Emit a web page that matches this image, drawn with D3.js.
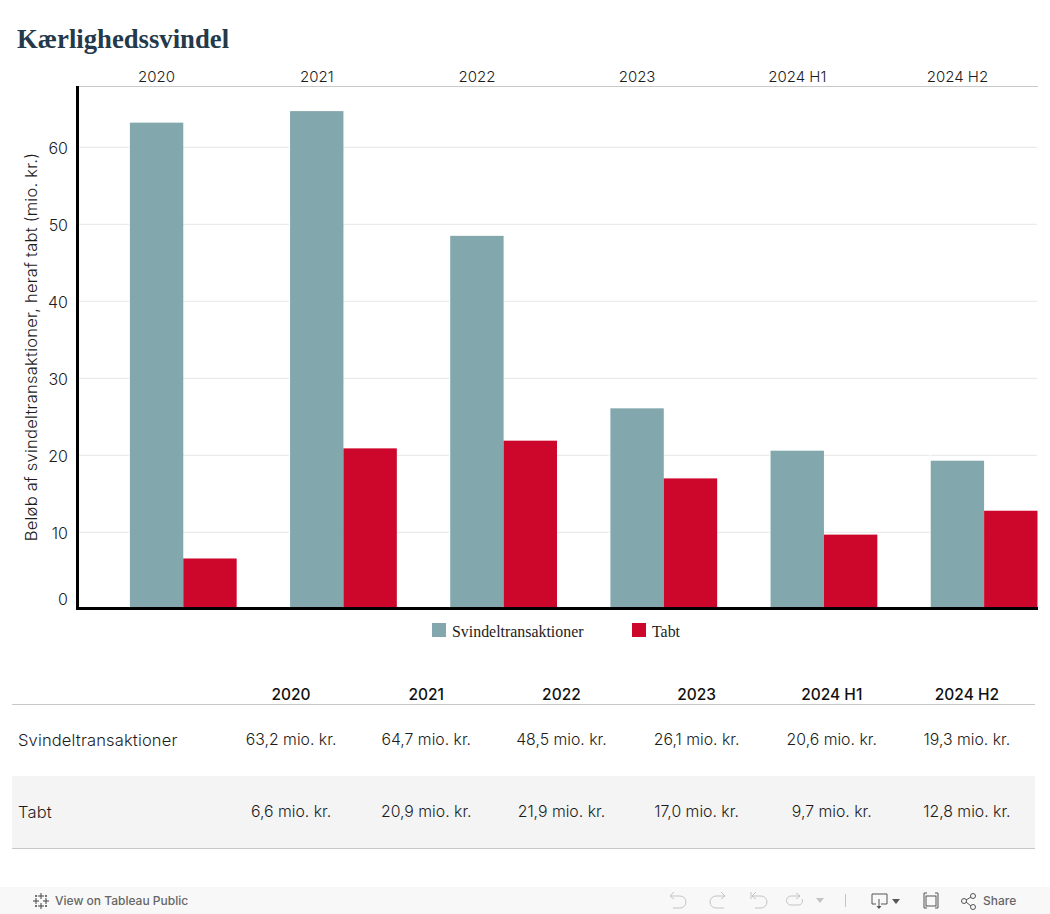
<!DOCTYPE html>
<html>
<head>
<meta charset="utf-8">
<script src="https://cdn.jsdelivr.net/npm/d3@7"></script>
<style>
	html, body { margin: 0; padding: 0; background: #fff; overflow: hidden; }
	svg { display: block; }
	text { font-family: Inter, sans-serif; font-weight: 300; fill: #1c1c1c; }
</style>
</head>
<body>
<svg id="chart" width="1050" height="914"></svg>
<script>
var periods = ["2020", "2021", "2022", "2023", "2024 H1", "2024 H2"]
var seriesNames = ["Svindeltransaktioner", "Tabt"]
var svindel = [63.2, 64.7, 48.5, 26.1, 20.6, 19.3]
var tabt = [6.6, 20.9, 21.9, 17.0, 9.7, 12.8]
var yTicks = [0, 10, 20, 30, 40, 50, 60]
var colors = ["#82a8ae", "#cd072b"]

var svg = d3.select("#chart")
var serif = "'Liberation Serif', serif"
var fmt = (v) => d3.format(".1f")(v).replace(".", ",") + " mio. kr."

// title
svg.append("text")
	.attr("x", 17).attr("y", 48)
	.style("font-family", serif).style("font-weight", 700).style("font-size", "26.7px")
	.style("fill", "#24394a")
	.text("Kærlighedssvindel")

// scales
var x = d3.scaleBand().domain(periods).range([76.5, 1037.5])
var y = d3.scaleLinear().domain([0, 60]).range([609.3, 147.3])
// each panel leaves its first third empty, the two bars sit in the rest
var x1 = d3.scaleBand().domain(seriesNames).range([x.bandwidth() / 3, x.bandwidth()])

// gridlines
svg.append("g").selectAll("line")
	.data(yTicks.filter((d) => d > 0))
	.join("line")
	.attr("x1", 79).attr("x2", 1037)
	.attr("y1", (d) => y(d)).attr("y2", (d) => y(d))
	.attr("stroke", "#e6e6e6").attr("stroke-width", 1)

// y axis labels
var yAxis = svg.append("g")
	.attr("transform", "translate(72,0)")
	.call(d3.axisLeft(y).tickValues(yTicks).tickSize(0).tickPadding(4))
yAxis.select(".domain").remove()
yAxis.selectAll("text")
	.style("font-family", "Inter, sans-serif").style("font-size", "16px")
	.attr("dy", "0.36em")
	.attr("y", (d) => d === 0 ? -11 : 0)

svg.append("text")
	.attr("transform", "translate(37,347) rotate(-90)")
	.attr("text-anchor", "middle")
	.style("font-size", "16.5px").style("letter-spacing", "0.24px")
	.text("Beløb af svindeltransaktioner, heraf tabt (mio. kr.)")

// top header
svg.append("g").selectAll("text")
	.data(periods)
	.join("text")
	.attr("x", (d) => x(d) + x.bandwidth() / 2)
	.attr("y", 82)
	.attr("text-anchor", "middle")
	.style("font-size", "15px")
	.text((d) => d)

// bars
var groups = svg.append("g").selectAll("g")
	.data(periods)
	.join("g")
	.attr("transform", (d) => `translate(${x(d)},0)`)

// thin white edge left of the teal bars, it cuts the gridlines
groups.append("line")
	.attr("x1", x1(seriesNames[0]) - 0.5).attr("x2", x1(seriesNames[0]) - 0.5)
	.attr("y1", (d, i) => y(svindel[i]) - 8).attr("y2", y(0))
	.attr("stroke", "#fff").attr("stroke-width", 1)

groups.selectAll("rect")
	.data((d, i) => [
		{ name: seriesNames[0], value: svindel[i] },
		{ name: seriesNames[1], value: tabt[i] }
	])
	.join("rect")
	.attr("x", (d) => x1(d.name))
	.attr("width", x1.bandwidth())
	.attr("y", (d) => y(d.value))
	.attr("height", (d) => y(0) - y(d.value))
	.attr("fill", (d, i) => colors[i])

// frame
svg.append("line").attr("x1", 76).attr("x2", 1038).attr("y1", 86.5).attr("y2", 86.5)
	.attr("stroke", "#c8c8c8")
svg.append("rect").attr("x", 76).attr("y", 86).attr("width", 3).attr("height", 524).attr("fill", "#000")
svg.append("rect").attr("x", 76).attr("y", 607).attr("width", 962).attr("height", 3).attr("fill", "#000")

// legend
var legendX = [432, 632]
var legend = svg.append("g").selectAll("g")
	.data(seriesNames)
	.join("g")
	.attr("transform", (d, i) => `translate(${legendX[i]},623)`)
legend.append("rect").attr("width", 14).attr("height", 14).attr("fill", (d, i) => colors[i])
legend.append("text")
	.attr("x", 20).attr("y", 13.5)
	.style("font-family", serif).style("font-weight", 400).style("font-size", "15.9px")
	.text((d) => d)

// table
var tx = d3.scaleBand().domain(periods).range([223.5, 1034.5])
var tableRows = [svindel, tabt]
var rowY = [740, 812]

svg.append("rect").attr("x", 12).attr("y", 776).attr("width", 1023).attr("height", 72).attr("fill", "#f4f4f4")
svg.append("line").attr("x1", 12).attr("x2", 1035).attr("y1", 704.5).attr("y2", 704.5).attr("stroke", "#c8c8c8")
svg.append("line").attr("x1", 12).attr("x2", 1035).attr("y1", 848.5).attr("y2", 848.5).attr("stroke", "#c8c8c8")

svg.append("g").selectAll("text")
	.data(periods)
	.join("text")
	.attr("x", (d) => tx(d) + tx.bandwidth() / 2)
	.attr("y", 699.5)
	.attr("text-anchor", "middle")
	.style("font-size", "15.5px").style("font-weight", 500).style("fill", "#111")
	.text((d) => d)

seriesNames.forEach(function(name, r) {
	svg.append("text")
		.attr("x", 18).attr("y", rowY[r] + 6)
		.style("font-size", "16.5px").style("letter-spacing", "0.15px")
		.text(name)

	svg.append("g").selectAll("text")
		.data(tableRows[r])
		.join("text")
		.attr("x", (d, i) => tx(periods[i]) + tx.bandwidth() / 2)
		.attr("y", rowY[r] + 5)
		.attr("text-anchor", "middle")
		.style("font-size", "15.8px")
		.text((d) => fmt(d))
})

// tableau toolbar
var bar = svg.append("g")
bar.append("rect").attr("x", 0).attr("y", 887).attr("width", 1050).attr("height", 27).attr("fill", "#f8f8f8")
bar.append("text").attr("x", 55).attr("y", 905)
	.style("font-size", "12px").style("font-weight", 500).style("fill", "#666")
	.text("View on Tableau Public")
bar.append("text").attr("x", 983).attr("y", 905)
	.style("font-size", "12px").style("font-weight", 500).style("fill", "#666")
	.text("Share")

// logo
var logo = bar.append("g").attr("transform", "translate(41,901)").attr("stroke", "#444").attr("stroke-width", 1).attr("fill", "none")
logo.append("path").attr("d", "M0,-8V-2M-3,-5H3M0,2V8M-3,5H3M-8,0H-2M-5,-3V3M2,0H8M5,-3V3M-5,-6V-4M-6,-5H-4M5,-6V-4M4,-5H6M-5,4V6M-6,5H-4M5,4V6M4,5H6")

// disabled undo / redo / revert / refresh
var ghost = bar.append("g").attr("stroke", "#c4c4c4").attr("stroke-width", 1).attr("fill", "none")
ghost.append("path").attr("d", "M670,896H680A5.5,5.5 0 0 1 680,908H673M670,896L674,892M670,896L674,899")
ghost.append("path").attr("d", "M725,896H716A5.5,5.5 0 0 0 716,908H724M725,896L721,892M725,896L721,899")
ghost.append("path").attr("d", "M751,892V899M752,896H761A5.5,5.5 0 0 1 761,908H755M752,896L756,892M752,896L756,899")
ghost.append("path").attr("d", "M800,896H791A4,4 0 0 0 791,905H798A4,4 0 0 0 802,899M800,896L796,893M800,896L796,899")
bar.append("path").attr("d", "M816,898H824L820,903Z").attr("fill", "#c4c4c4")
bar.append("line").attr("x1", 845.5).attr("x2", 845.5).attr("y1", 894).attr("y2", 907).attr("stroke", "#c4c4c4")

// download / fullscreen / share
var icons = bar.append("g").attr("stroke", "#555").attr("stroke-width", 1).attr("fill", "none")
icons.append("path").attr("d", "M876,904H872V894H887V904H881M879,899V908")
bar.append("path").attr("d", "M876.5,906H881.5L879,909Z").attr("fill", "#555")
bar.append("path").attr("d", "M892,899H900L896,904Z").attr("fill", "#555")
icons.append("rect").attr("x", 926).attr("y", 896).attr("width", 10).attr("height", 10)
icons.append("path").attr("d", "M927,893H924V908H927M935,893H938V908H935")
icons.append("circle").attr("cx", 964).attr("cy", 901).attr("r", 2.5)
icons.append("circle").attr("cx", 973).attr("cy", 896).attr("r", 2.5)
icons.append("circle").attr("cx", 973).attr("cy", 907).attr("r", 2.5)
icons.append("path").attr("d", "M966,900L971,897M966,902L971,906")
</script>
</body>
</html>
